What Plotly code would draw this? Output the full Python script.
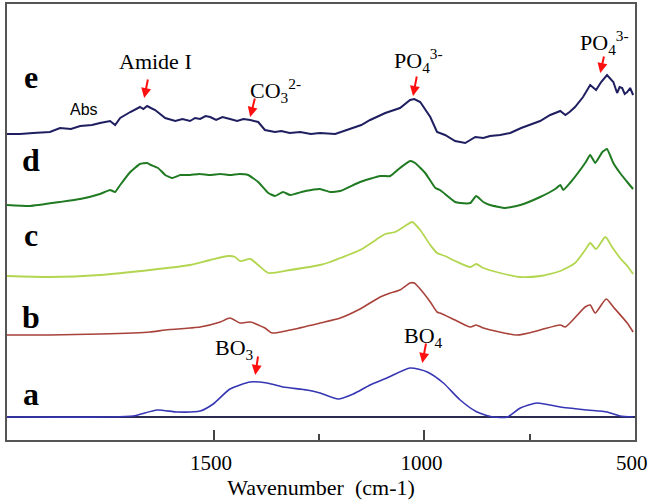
import plotly.graph_objects as go

# ---- data (wavenumber cm-1, stacked absorbance in a.u.) ----
wn_e = [1992, 1961, 1930, 1890, 1866, 1840, 1818, 1790, 1771, 1747, 1735, 1723, 1699, 1676, 1668, 1659, 1650, 1640,
        1616, 1592, 1575, 1557, 1545, 1533, 1520, 1509, 1495, 1480, 1462, 1445, 1430, 1414, 1395, 1379, 1355, 1340,
        1320, 1295, 1270, 1248, 1212, 1177, 1150, 1129, 1093, 1058, 1034, 1024, 1010, 986, 970, 951, 927, 903, 879,
        860, 844, 820, 796, 770, 749, 725, 701, 677, 665, 655, 642, 623, 606, 592, 580, 570, 566, 551, 542, 536, 530,
        524, 518, 511, 504]
ab_e = [283, 283, 284, 285, 289, 288, 291, 292, 294, 296, 292, 299, 305, 310, 308, 311, 309, 307,
        299, 296, 298, 296, 299, 298, 301, 300, 297, 300, 298, 296, 298, 297, 295, 287, 285, 286,
        284, 285, 283, 284, 283, 288, 292, 297, 304, 309, 317, 318, 315, 300, 285, 282, 276, 274, 280,
        279, 281, 282, 284, 289, 292, 296, 302, 306, 302, 305, 310, 320, 332, 327, 335, 340, 342, 335, 324, 330, 329,
        323, 325, 329, 322]

wn_d = [1992, 1937, 1866, 1818, 1771, 1747, 1735, 1723, 1699, 1676, 1659, 1650, 1633, 1616, 1600, 1580, 1557, 1535,
        1509, 1485, 1462, 1440, 1419, 1395, 1371, 1355, 1336, 1319, 1283, 1248, 1224, 1200, 1153, 1105, 1081, 1058,
        1034, 1022, 998, 974, 963, 927, 915, 891, 877, 860, 844, 808, 772, 725, 689, 677, 670, 654, 618, 606, 594,
        577, 566, 551, 535, 516, 504]
ab_d = [212, 211, 215, 218, 223, 227, 225, 232, 245, 253, 254, 252, 249, 242, 239, 242, 242, 243,
        242, 243, 242, 243, 242, 235, 224, 221, 225, 222, 226, 228, 225, 226, 235, 241, 241, 249,
        256, 254, 244, 229, 227, 215, 214, 214, 221, 215, 212, 209, 212, 220, 228, 232, 227, 234, 254, 262, 254,
        265, 268, 254, 244, 234, 228]

wn_c = [1992, 1890, 1771, 1652, 1557, 1509, 1466, 1450, 1438, 1414, 1395, 1371, 1319, 1248, 1224, 1200, 1153, 1105,
        1093, 1070, 1046, 1029, 1010, 986, 970, 951, 927, 891, 877, 860, 820, 772, 725, 677, 642, 618, 606, 592,
        570, 554, 535, 516, 504]
ab_c = [141, 140, 142, 147, 152, 157, 161, 160, 156, 158, 152, 144, 147, 152, 155, 159, 167, 180,
        183, 185, 191, 195, 187, 172, 164, 161, 156, 150, 153, 149, 144, 140, 141, 146, 154, 167, 174, 168,
        180, 170, 159, 150, 143]

wn_b = [1992, 1890, 1771, 1652, 1616, 1557, 1533, 1485, 1462, 1438, 1414, 1379, 1362, 1319, 1248, 1200, 1153, 1105,
        1081, 1058, 1034, 1024, 1010, 986, 970, 963, 927, 891, 877, 860, 780, 725, 677, 665, 618, 606, 594, 568,
        551, 518, 504]
ab_b = [82, 82, 83, 85, 87, 89, 90, 95, 99, 94, 95, 89, 84, 87, 94, 99, 108, 120,
        124, 127, 134, 134, 128, 115, 105, 104, 97, 90, 92, 89, 82, 87, 92, 90, 110, 112, 104, 118,
        110, 94, 85]

wn_a = [1992, 1750, 1692, 1635, 1588, 1533, 1502, 1462, 1414, 1374, 1336, 1279, 1248, 1205, 1169, 1129, 1089, 1034,
        993, 955, 915, 875, 837, 803, 772, 732, 677, 613, 566, 535, 504]
ab_a = [0, 0, 1, 7, 5, 6, 13, 28, 35, 34, 30, 27, 24, 18, 23, 32, 39, 49,
        45, 34, 17, 5, 0, 0, 9, 14, 10, 7, 5, 1, 0]

sample_labels = ["a", "b", "c", "d", "e"]
label_levels = [23, 100, 182, 257, 340]

band_names = ["Amide I", "CO<sub>3</sub><sup>2-</sup>", "PO<sub>4</sub><sup>3-</sup>", "PO<sub>4</sub><sup>3-</sup>",
              "BO<sub>3</sub>", "BO<sub>4</sub>"]
band_wn = [1666, 1414, 1027, 582, 1402, 1005]
band_level = [319, 300, 321, 344, 42, 54]

x_major = [1500, 1000, 500]
x_minor = [1250, 750]
x_range = [1992, 499.5]

SERIF = "Liberation Serif, Times New Roman, serif"

fig = go.Figure()
fig.add_trace(go.Scatter(x=wn_a, y=ab_a, mode="lines", line=dict(color="#3636b4", width=1.6, shape="spline", smoothing=0.6),
                         xaxis="x2", showlegend=False))
fig.add_trace(go.Scatter(x=wn_b, y=ab_b, mode="lines", line=dict(color="#a8423a", width=1.6, shape="spline", smoothing=0.6),
                         showlegend=False))
fig.add_trace(go.Scatter(x=wn_c, y=ab_c, mode="lines", line=dict(color="#b2d650", width=1.8, shape="spline", smoothing=0.6),
                         showlegend=False))
fig.add_trace(go.Scatter(x=wn_d, y=ab_d, mode="lines", line=dict(color="#1f7a22", width=2, shape="spline", smoothing=0.4),
                         showlegend=False))
fig.add_trace(go.Scatter(x=wn_e, y=ab_e, mode="lines", line=dict(color="#1e1e60", width=2),
                         showlegend=False))

annotations = []
for lab, lvl in zip(sample_labels, label_levels):
    annotations.append(dict(x=1935, y=lvl, text=f"<b>{lab}</b>", showarrow=False, xanchor="center", yanchor="middle",
                            font=dict(family=SERIF, size=32, color="black")))

text_pos = [(1640, 356, "center"), (1419, 327, "left"), (1077, 357, "left"), (635, 375, "left"),
            (1502, 68, "left"), (1053, 80, "left")]
for name, (tx, ty, anc) in zip(band_names, text_pos):
    annotations.append(dict(x=tx, y=ty, text=name, showarrow=False, xanchor=anc, yanchor="middle",
                            font=dict(family=SERIF, size=22, color="black")))

arrow_off = [(4, -20), (5, -20), (4, -21), (4, -18), (3, -20), (4, -21)]
for bw, bl, (axo, ayo) in zip(band_wn, band_level, arrow_off):
    annotations.append(dict(x=bw, y=bl, text="", showarrow=True, ax=axo, ay=ayo, arrowhead=2, arrowsize=1,
                            arrowwidth=2, arrowcolor="#ff1010", standoff=0, startstandoff=0))

annotations.append(dict(x=1809, y=308, text="Abs", showarrow=False, xanchor="center", yanchor="middle",
                        font=dict(family="Liberation Sans, Arial, sans-serif", size=16, color="black")))

fig.update_layout(
    width=649, height=502,
    margin=dict(l=7, r=14, t=4, b=62, autoexpand=False),
    paper_bgcolor="white", plot_bgcolor="white",
    annotations=annotations,
    xaxis=dict(range=x_range, tickvals=x_major, ticktext=[str(v) for v in x_major], ticks="inside", ticklen=10,
               tickwidth=1.5, tickcolor="#444", showline=True, linecolor="#555", linewidth=2, mirror=True,
               showgrid=False, zeroline=False, ticklabelstandoff=3, ticklabelshift=3, ticklabeloverflow="allow",
               automargin=False,
               tickfont=dict(family=SERIF, size=21, color="black"),
               title=dict(text="Wavenumber  (cm-1)", font=dict(family=SERIF, size=22, color="black"), standoff=0)),
    xaxis2=dict(range=x_range, overlaying="x", anchor="y", side="bottom", tickvals=x_minor, ticks="inside",
                ticklen=6, tickwidth=1.5, tickcolor="#444", showticklabels=False, showline=False, showgrid=False,
                zeroline=False, automargin=False),
    yaxis=dict(range=[-23, 413], showticklabels=False, ticks="", showline=True, linecolor="#555", linewidth=2,
               mirror=True, showgrid=False, zeroline=True, zerolinecolor="#2a2a4e", zerolinewidth=2,
               automargin=False),
)

fig.write_html("out.html", config={"displayModeBar": False},
               post_script="document.body.style.margin='0';document.body.style.padding='0';")
